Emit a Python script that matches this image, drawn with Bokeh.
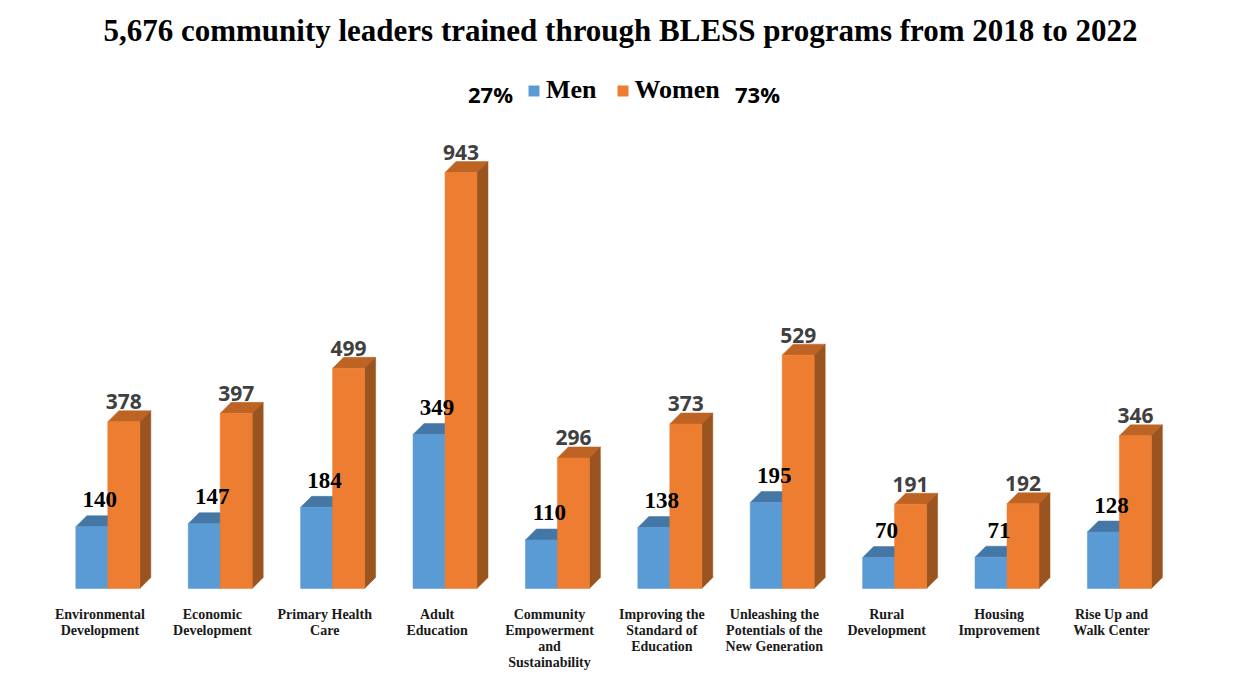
from bokeh.plotting import figure
from bokeh.models import Range1d, Legend, LegendItem, Label, LinearAxis, FixedTicker, Title
from bokeh.core.properties import value
from bokeh.embed import file_html
from bokeh.resources import INLINE

categories = ["Environmental\nDevelopment", "Economic\nDevelopment", "Primary Health\nCare", "Adult\nEducation",
              "Community\nEmpowerment\nand\nSustainability", "Improving the\nStandard of\nEducation",
              "Unleashing the\nPotentials of the\nNew Generation", "Rural\nDevelopment", "Housing\nImprovement",
              "Rise Up and\nWalk Center"]
men = [140, 147, 184, 349, 110, 138, 195, 70, 71, 128]
women = [378, 397, 499, 943, 296, 373, 529, 191, 192, 346]
title_text = "5,676 community leaders trained through BLESS programs from 2018 to 2022"

SERIF = "Liberation Serif"
STEP = 112.4          # px per category
PXV = 416 / 943       # px per person
ABOVE = 540           # frame px above baseline
BELOW = 85            # frame px below baseline
FRAME_W = 1240
ORIGIN = 107.3        # first category centre in figure px
BW = 32 / STEP
DX = 11 / STEP
DY = 11 / PXV
LABEL_SHIFT = 0.07    # category labels sit slightly left of each pair of bars

idx = list(range(len(categories)))
p = figure(width=1240, height=673, output_backend="svg", toolbar_location=None,
           x_range=Range1d(-ORIGIN / STEP, (FRAME_W - ORIGIN) / STEP),
           y_range=Range1d(-BELOW / PXV, ABOVE / PXV),
           min_border_left=0, min_border_right=0, min_border_top=48, min_border_bottom=0,
           outline_line_color=None, background_fill_color="white", border_fill_color="white",
           x_axis_location=None, y_axis_location=None)
p.grid.visible = False
p.title = Title(text=title_text, align="center", text_font=SERIF, text_font_size="31px",
                text_font_style="bold", text_color="black", standoff=2, offset=0)

ticks = [round(i - LABEL_SHIFT, 2) for i in idx]
axis = LinearAxis(ticker=FixedTicker(ticks=ticks), major_label_overrides={t: c for t, c in zip(ticks, categories)},
                  fixed_location=0,
                  axis_line_color=None, major_tick_line_color=None, minor_tick_line_color=None,
                  major_label_text_font=SERIF, major_label_text_font_style="bold",
                  major_label_text_font_size="14px", major_label_text_color="#1a1a1a",
                  major_label_text_line_height=1.07, major_label_standoff=12)
p.add_layout(axis, "below")


def box3d(xc, vals, front, top, side):
    x0 = [x - BW / 2 for x in xc]
    x1 = [x + BW / 2 for x in xc]
    p.patches([[a, b, b + DX, a + DX] for a, b in zip(x0, x1)],
              [[v, v, v + DY, v + DY] for v in vals], fill_color=top, line_color=top, line_width=0.5)
    p.patches([[b, b + DX, b + DX, b] for b in x1],
              [[0, DY, v + DY, v] for v in vals], fill_color=side, line_color=side, line_width=0.5)
    return p.vbar(x=xc, top=vals, bottom=0, width=BW, fill_color=front, line_color=front, line_width=0.5)


men_x = [i - BW / 2 for i in idx]
women_x = [i + BW / 2 for i in idx]
r_men = box3d(men_x, men, "#5B9BD5", "#4577A6", "#3F6F9C")
r_women = box3d(women_x, women, "#ED7D31", "#BD6425", "#9A541F")

p.text(x=[x + 8 / STEP for x in men_x], y=men, text=[str(v) for v in men],
       text_font=value(SERIF), text_font_style="bold", text_font_size="23px", text_color="black",
       text_align="center", text_baseline="middle", y_offset=-27)
p.text(x=women_x, y=women, text=[str(v) for v in women],
       text_font=value("Open Sans"), text_font_style="bold", text_font_size="21px", text_color="#404040",
       text_align="center", text_baseline="middle", y_offset=-20)

legend = Legend(items=[LegendItem(label="Men", renderers=[r_men]), LegendItem(label="Women", renderers=[r_women])],
                orientation="horizontal", location=(527, 568), background_fill_alpha=0, border_line_color=None,
                label_text_font=SERIF, label_text_font_style="bold", label_text_font_size="26px",
                label_text_color="black", glyph_width=13, glyph_height=13, label_standoff=6, spacing=19,
                padding=0, margin=0)
p.add_layout(legend, "center")

for txt, xp in (("27%", 490), ("73%", 757)):
    p.add_layout(Label(x=xp, y=673 - 93, x_units="screen", y_units="screen", text=txt, text_font="Open Sans",
                       text_font_style="bold", text_font_size="22px", text_color="black",
                       text_align="center", text_baseline="middle"))

open("out.html", "w").write(file_html(p, INLINE))
